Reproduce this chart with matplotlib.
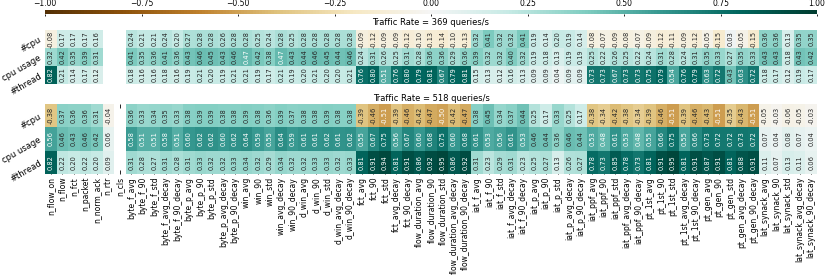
import numpy as np
import matplotlib
matplotlib.use('Agg')
import matplotlib.pyplot as plt
import seaborn as sns

nan = np.nan

groups = ['byte_f', 'byte_p', 'win', 'd_win', 'fct', 'flow_duration', 'iat_f',
          'iat_p', 'iat_ppf', 'pt_1st', 'pt_gen', 'lat_synack']
stats = ['avg', '90', 'std', 'avg_decay', '90_decay']
features = ['n_flow_on', 'n_flow', 'n_fct', 'n_packet', 'n_norm_ack', 'n_rtr', 'n_cls']
features += [g + '_' + s for g in groups for s in stats]

rows = ['#cpu', 'cpu usage', '#thread']

# Traffic Rate = 369 queries/s
cpu_369 = [-0.08, 0.17, 0.17, 0.17, 0.16, nan, nan,
           0.24, 0.21, 0.21, 0.24, 0.20,
           0.27, 0.28, 0.28, 0.26, 0.28,
           0.28, 0.25, 0.24, 0.28, 0.25,
           0.28, 0.28, 0.28, 0.28, 0.28,
           -0.09, -0.12, -0.09, -0.09, -0.12,
           -0.10, -0.13, -0.14, -0.10, -0.13,
           0.32, 0.41, 0.32, 0.32, 0.41,
           0.19, 0.14, 0.20, 0.19, 0.14,
           -0.08, -0.07, -0.09, -0.08, -0.07,
           -0.09, -0.12, -0.11, -0.09, -0.12,
           -0.05, -0.15, 0.03, -0.05, -0.15,
           0.36, 0.36, 0.13, 0.35, 0.35]
usage_369 = [0.32, 0.42, 0.35, 0.39, 0.31, nan, nan,
             0.41, 0.35, 0.36, 0.41, 0.36,
             0.43, 0.46, 0.45, 0.43, 0.46,
             0.47, 0.42, 0.38, 0.47, 0.43,
             0.44, 0.46, 0.45, 0.44, 0.46,
             0.24, 0.31, 0.26, 0.25, 0.31,
             0.28, 0.36, 0.36, 0.29, 0.36,
             0.39, 0.32, 0.32, 0.40, 0.32,
             0.19, 0.18, 0.13, 0.19, 0.19,
             0.25, 0.22, 0.26, 0.25, 0.22,
             0.24, 0.31, 0.28, 0.24, 0.31,
             0.35, 0.33, 0.27, 0.35, 0.33,
             0.43, 0.43, 0.18, 0.43, 0.42]
thread_369 = [0.82, 0.21, 0.14, 0.17, 0.12, nan, nan,
              0.18, 0.16, 0.16, 0.18, 0.16,
              0.19, 0.21, 0.20, 0.19, 0.21,
              0.21, 0.19, 0.17, 0.21, 0.19,
              0.20, 0.21, 0.20, 0.20, 0.21,
              0.76, 0.80, 0.51, 0.76, 0.80,
              0.79, 0.81, 0.67, 0.79, 0.81,
              0.15, 0.13, 0.12, 0.16, 0.13,
              0.09, 0.09, 0.04, 0.09, 0.09,
              0.73, 0.73, 0.67, 0.73, 0.73,
              0.75, 0.79, 0.54, 0.76, 0.79,
              0.63, 0.72, 0.43, 0.63, 0.72,
              0.18, 0.17, 0.12, 0.19, 0.17]

# Traffic Rate = 518 queries/s
cpu_518 = [-0.38, 0.37, 0.36, 0.36, 0.31, -0.04, nan,
           0.36, 0.33, 0.34, 0.35, 0.33,
           0.38, 0.39, 0.39, 0.38, 0.38,
           0.39, 0.38, 0.36, 0.39, 0.37,
           0.38, 0.38, 0.39, 0.38, 0.38,
           -0.39, -0.46, -0.51, -0.39, -0.46,
           -0.42, -0.47, -0.50, -0.42, -0.47,
           0.38, 0.45, 0.34, 0.37, 0.44,
           0.25, 0.17, 0.33, 0.25, 0.17,
           -0.38, -0.34, -0.42, -0.38, -0.34,
           -0.39, -0.46, -0.51, -0.39, -0.46,
           -0.43, -0.51, -0.35, -0.43, -0.51,
           -0.05, -0.03, -0.06, -0.05, -0.03]
usage_518 = [0.56, 0.46, 0.43, 0.46, 0.42, 0.06, nan,
             0.58, 0.51, 0.51, 0.58, 0.51,
             0.60, 0.62, 0.62, 0.60, 0.62,
             0.64, 0.59, 0.55, 0.64, 0.59,
             0.61, 0.61, 0.62, 0.61, 0.62,
             0.55, 0.67, 0.75, 0.56, 0.67,
             0.60, 0.68, 0.75, 0.60, 0.68,
             0.61, 0.53, 0.56, 0.61, 0.53,
             0.46, 0.44, 0.36, 0.46, 0.44,
             0.53, 0.48, 0.61, 0.53, 0.48,
             0.55, 0.66, 0.75, 0.55, 0.66,
             0.73, 0.72, 0.72, 0.73, 0.72,
             0.07, 0.04, 0.08, 0.07, 0.04]
thread_518 = [0.82, 0.22, 0.20, 0.22, 0.20, 0.09, nan,
              0.31, 0.28, 0.27, 0.31, 0.28,
              0.31, 0.33, 0.32, 0.32, 0.33,
              0.34, 0.32, 0.29, 0.34, 0.32,
              0.32, 0.33, 0.33, 0.32, 0.33,
              0.81, 0.91, 0.94, 0.81, 0.91,
              0.86, 0.92, 0.95, 0.86, 0.92,
              0.31, 0.23, 0.29, 0.31, 0.23,
              0.25, 0.27, 0.13, 0.26, 0.27,
              0.78, 0.73, 0.85, 0.78, 0.73,
              0.81, 0.91, 0.95, 0.81, 0.91,
              0.87, 0.91, 0.81, 0.88, 0.91,
              0.11, 0.07, 0.13, 0.11, 0.06]

data_369 = np.array([cpu_369, usage_369, thread_369])
data_518 = np.array([cpu_518, usage_518, thread_518])

fig = plt.figure(figsize=(8.3, 2.78), dpi=100)
left = 45 / 830
width = 772 / 830
ax1 = fig.add_axes([left, 1 - 84 / 278, width, 54 / 278])
ax2 = fig.add_axes([left, 1 - 174 / 278, width, 70 / 278])
cax = fig.add_axes([left, 1 - 14 / 278, width, 4 / 278])

annot_kw = {'rotation': 90, 'fontsize': 4.8}

sns.heatmap(data_369, ax=ax1, cmap='BrBG', vmin=-1, vmax=1, cbar=False,
            annot=True, fmt='.2f', annot_kws=annot_kw,
            xticklabels=False, yticklabels=rows)
sns.heatmap(data_518, ax=ax2, cmap='BrBG', vmin=-1, vmax=1, cbar=False,
            annot=True, fmt='.2f', annot_kws=annot_kw,
            xticklabels=features, yticklabels=rows)

ax1.set_title('Traffic Rate = 369 queries/s', fontsize=6, pad=3.5)
ax2.set_title('Traffic Rate = 518 queries/s', fontsize=6, pad=2.5)

for ax in (ax1, ax2):
    ax.set_yticklabels(rows, rotation=30, ha='right', rotation_mode='anchor',
                       fontsize=6)
    ax.tick_params(axis='y', length=0, pad=3)

ax2.set_xticklabels(features, rotation=90, fontsize=5.5)
ax2.set_axisbelow(True)
ax2.tick_params(axis='x', direction='in', top=True, length=3, width=0.6, pad=2)

cb = fig.colorbar(ax1.collections[0], cax=cax, orientation='horizontal')
cb.outline.set_visible(False)
cb.set_ticks([-1, -0.75, -0.5, -0.25, 0, 0.25, 0.5, 0.75, 1])
cax.tick_params(labelsize=5.5, labeltop=True, labelbottom=False,
                top=False, bottom=True, length=1.5, width=0.6, pad=0)

plt.savefig('out.png', dpi=100)
